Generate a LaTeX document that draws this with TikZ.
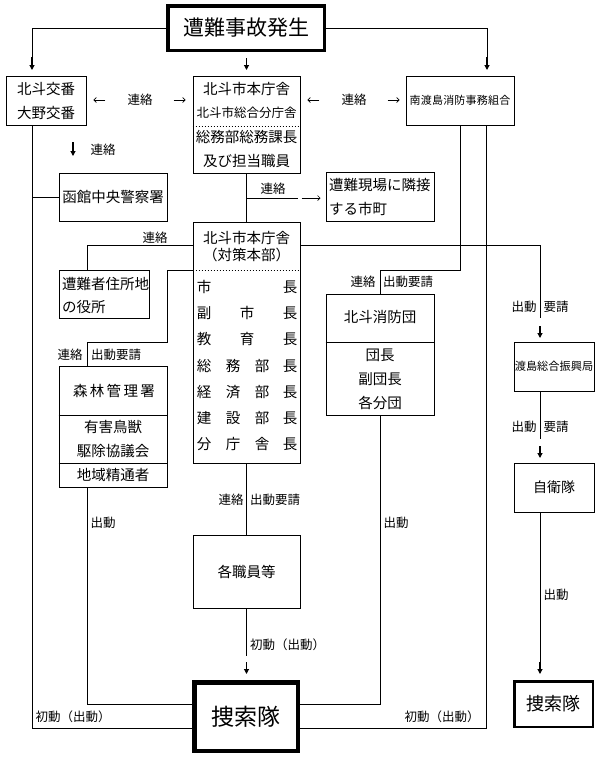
\documentclass[tikz,border=0pt]{standalone}
\usepackage{fontspec}
\newfontfamily\jp{Noto Sans CJK JP}
\usetikzlibrary{arrows.meta}
\begin{document}
\begin{tikzpicture}[x=1pt,y=-1pt,
  box/.style={draw,line width=1pt,inner sep=0pt},
  txt/.style={inner sep=0pt,font=\jp\fontsize{14.5}{16}\selectfont},
  lab/.style={inner sep=0pt,font=\jp\fontsize{12.5}{14}\selectfont},
  small/.style={inner sep=0pt,font=\jp\fontsize{11}{12}\selectfont},
  conn/.style={line width=1pt},
  arr/.style={line width=1.1pt,-{Triangle[length=5pt,width=5pt]}},
  harr/.style={line width=0.7pt,-{Straight Barb[length=2.5pt,width=5pt]}},
  dsh/.style={line width=0.7pt,dash pattern=on 1.5pt off 1.5pt}]
\useasboundingbox (0,0) rectangle (597,758);
\fill[white] (0,0) rectangle (597,758);

% ---- boxes ----
\node[box,line width=3.5pt,minimum width=156.5pt,minimum height=44.5pt,font=\jp\fontsize{21}{24}\selectfont] (title) at (246,28) {遭難事故発生};
\node[box,minimum width=80pt,minimum height=49pt] (koban) at (46,100.5) {};
\node[txt] (koban1) at (46,89) {北斗交番};
\node[txt] (koban2) at (46,113) {大野交番};

\node[box,minimum width=107pt,minimum height=97pt] (honcho) at (246.5,124.5) {};
\node[txt] (hc1) at (246.5,89) {北斗市本庁舎};
\node[txt,font=\jp\fontsize{12.5}{14}\selectfont] (hc2) at (246.5,113) {北斗市総合分庁舎};
\node[txt] (hc3) at (246.5,137) {総務部総務課長};
\node[txt] (hc4) at (246.5,161) {及び担当職員};
\draw[dsh] (honcho.west |- 0,126) -- (honcho.east |- 0,126);

\node[box,minimum width=108pt,minimum height=49pt,small,font=\jp\fontsize{11}{12}\selectfont\addfontfeature{LetterSpace=2}] (minami) at (460,100.5) {南渡島消防事務組合};

\node[box,minimum width=108pt,minimum height=48pt,txt] (hakodate) at (113,197) {函館中央警察署};

\node[box,minimum width=108pt,minimum height=49pt] (rinsetsu) at (380,196.5) {};
\node[txt,anchor=west] (rs1) at (329,185) {遭難現場に隣接};
\node[txt,anchor=west] (rs2) at (329,209) {する市町};

\node[box,minimum width=107pt,minimum height=241pt] (taisaku) at (246.5,342.5) {};
\node[txt] (ts1) at (246.5,238) {北斗市本庁舎};
\node[txt] (ts2) at (246.5,255) {（対策本部）};
\draw[dsh] (taisaku.west |- 0,270) -- (taisaku.east |- 0,270);
\node[txt] (r1a) at (204,287) {市};
\node[txt] (r1b) at (290,287) {長};
\node[txt] (r2a) at (204,313) {副};
\node[txt] (r2b) at (247,313) {市};
\node[txt] (r2c) at (290,313) {長};
\node[txt] (r3a) at (204,339) {教};
\node[txt] (r3b) at (247,339) {育};
\node[txt] (r3c) at (290,339) {長};
\node[txt] (r4a) at (204,366) {総};
\node[txt] (r4b) at (233,366) {務};
\node[txt] (r4c) at (262,366) {部};
\node[txt] (r4d) at (290,366) {長};
\node[txt] (r5a) at (204,392) {経};
\node[txt] (r5b) at (233,392) {済};
\node[txt] (r5c) at (262,392) {部};
\node[txt] (r5d) at (290,392) {長};
\node[txt] (r6a) at (204,418) {建};
\node[txt] (r6b) at (233,418) {設};
\node[txt] (r6c) at (262,418) {部};
\node[txt] (r6d) at (290,418) {長};
\node[txt] (r7a) at (204,444) {分};
\node[txt] (r7b) at (233,444) {庁};
\node[txt] (r7c) at (262,444) {舎};
\node[txt] (r7d) at (290,444) {長};

\node[box,minimum width=90pt,minimum height=48pt] (yakusho) at (104,294) {};
\node[txt,anchor=west] (yk1) at (62,284) {遭難者住所地};
\node[txt,anchor=west] (yk2) at (62,307) {の役所};

\node[box,minimum width=108pt,minimum height=121pt] (shinrin) at (113,426.5) {};
\draw[conn] (shinrin.west |- 0,415) -- (shinrin.east |- 0,415);
\draw[conn] (shinrin.west |- 0,463) -- (shinrin.east |- 0,463);
\node[txt,font=\jp\fontsize{14.5}{16}\selectfont\addfontfeature{LetterSpace=16}] (sr1) at (114,391) {森林管理署};
\node[txt] (sr2) at (113,427) {有害鳥獣};
\node[txt] (sr3) at (113,451) {駆除協議会};
\node[txt] (sr4) at (113,475) {地域精通者};

\node[box,minimum width=108pt,minimum height=121pt] (shobo) at (380,354.5) {};
\draw[conn] (shobo.west |- 0,342) -- (shobo.east |- 0,342);
\node[txt] (sb1) at (380,317) {北斗消防団};
\node[txt] (sb2) at (380,355) {団長};
\node[txt] (sb3) at (380,379) {副団長};
\node[txt] (sb4) at (380,403) {各分団};

\node[box,minimum width=80pt,minimum height=49pt,small,font=\jp\fontsize{11.2}{12}\selectfont] (shinko) at (554,366.5) {渡島総合振興局};
\node[box,minimum width=80pt,minimum height=49pt,txt,font=\jp\fontsize{14}{16}\selectfont] (jieitai) at (554,487.5) {自衛隊};
\node[box,minimum width=107pt,minimum height=73pt,txt] (shokuin) at (246.5,571.5) {各職員等};
\node[box,line width=4.5pt,minimum width=103.5pt,minimum height=68.5pt,font=\jp\fontsize{23}{26}\selectfont] (sosaku) at (246,716.5) {捜索隊};
\node[box,line width=2.5pt,minimum width=78.5pt,minimum height=45.5pt,font=\jp\fontsize{18}{20}\selectfont] (sosaku2) at (553.5,704) {捜索隊};

% ---- top arrows ----
\coordinate (kL) at (32,70);
\coordinate (kR) at (487,70);
\coordinate (m1) at (246.5,58);
\coordinate (m2) at (246.5,70);
\draw[conn] (title.west) -| (32,58);
\draw[arr] (32,57) -- (kL);
\draw[conn] (title.east) -| (487,58);
\draw[arr] (487,57) -- (kR);
\draw[arr] (m1) -- (m2);

% ---- 連絡 between top boxes ----
\node[lab] (l1) at (140,100) {連絡};
\draw[harr] ([xshift=-22pt]l1.west) -- ([xshift=-34pt]l1.west);
\draw[harr] ([xshift=21pt]l1.east) -- ([xshift=33pt]l1.east);
\node[lab] (l2) at (354,100) {連絡};
\draw[harr] ([xshift=-22pt]l2.west) -- ([xshift=-34pt]l2.west);
\draw[harr] ([xshift=21pt]l2.east) -- ([xshift=33pt]l2.east);
\node[lab] (l3) at (103,150) {連絡};
\coordinate (a3s) at (73,142);
\coordinate (a3e) at (73,156);
\draw[arr] (a3s) -- (a3e);

% ---- left trunk ----
\coordinate (p1) at (32,728);
\draw[conn] (koban.south -| p1) -- (p1) -- (sosaku.west |- p1);
\draw[conn] (hakodate.west) -- (hakodate.west -| p1);
\node[lab] (l4) at (73,717) {初動（出動）};

% ---- honcho -> taisaku, rinsetsu ----
\draw[conn] (honcho.south) -- (taisaku.north);
\coordinate (p2) at (246.5,198);
\coordinate (p3) at (298,198);
\draw[conn] (p2) -- (p3);
\draw[harr] ([xshift=-24pt]rinsetsu.west |- p2) -- ([xshift=-5pt]rinsetsu.west |- p2);
\node[lab] (l5) at (273,189) {連絡};

% ---- taisaku -> yakusho ----
\coordinate (p4) at (87,245);
\draw[conn] (taisaku.west |- p4) -- (p4) -- (yakusho.north -| p4);
\node[lab] (l6) at (155,238) {連絡};

% ---- taisaku -> shinrin ----
\coordinate (p5) at (167,270);
\coordinate (p6) at (87,342);
\draw[conn] (taisaku.west |- p5) -- (p5) -- (p5 |- p6) -- (p6) -- (shinrin.north -| p6);
\node[lab] (l7) at (70,355) {連絡};
\node[lab] (l8) at (116,355) {出動要請};

% ---- shinrin -> sosaku ----
\coordinate (p7) at (87,704);
\draw[conn] (shinrin.south -| p7) -- (p7) -- (sosaku.west |- p7);
\node[lab] (l9) at (103,523) {出動};

% ---- minami -> shobo ----
\coordinate (p8) at (460,270);
\coordinate (p9) at (380,270);
\draw[conn] (minami.south) -- (p8) -- (p9) -- (shobo.north);
\node[lab] (l10) at (363,282) {連絡};
\node[lab] (l11) at (408,282) {出動要請};

% ---- shobo -> sosaku ----
\coordinate (p10) at (380,704);
\draw[conn] (shobo.south) -- (p10) -- (sosaku.east |- p10);
\node[lab] (l12) at (396,523) {出動};

% ---- minami -> sosaku ----
\coordinate (p11) at (486,728);
\draw[conn] (minami.south -| p11) -- (p11) -- (sosaku.east |- p11);
\node[lab] (l13) at (442,717) {初動（出動）};

% ---- taisaku -> shinko -> jieitai -> sosaku2 ----
\coordinate (p12) at (540,245);
\coordinate (p13) at (540,318);
\draw[conn] (taisaku.east |- p12) -- (p12) -- (p13);
\coordinate (a1s) at (540,326);
\coordinate (a1e) at (540,338);
\draw[arr] (a1s) -- (a1e);
\node[lab] (l14) at (524,307) {出動};
\node[lab] (l15) at (556,307) {要請};

\coordinate (p14) at (540,439);
\draw[conn] (shinko.south -| p12) -- (p14);
\coordinate (a2s) at (540,446);
\coordinate (a2e) at (540,458);
\draw[arr] (a2s) -- (a2e);
\node[lab] (l16) at (524,427) {出動};
\node[lab] (l17) at (556,427) {要請};

\coordinate (p15) at (540,665);
\draw[conn] (jieitai.south -| p12) -- (p15);
\coordinate (a4e) at (540,674);
\draw[arr] (540,662) -- (a4e);
\node[lab] (l18) at (556,595) {出動};

% ---- taisaku -> shokuin -> sosaku ----
\draw[conn] (taisaku.south) -- (shokuin.north);
\node[lab] (l19) at (231,500) {連絡};
\node[lab] (l20) at (275,500) {出動要請};
\coordinate (p16) at (246.5,656);
\draw[conn] (shokuin.south) -- (p16);
\coordinate (a5s) at (246.5,662);
\coordinate (a5e) at (246.5,674);
\draw[arr] (a5s) -- (a5e);
\node[lab,anchor=west] (l21) at (250,645) {初動（出動）};
\end{tikzpicture}
\end{document}
